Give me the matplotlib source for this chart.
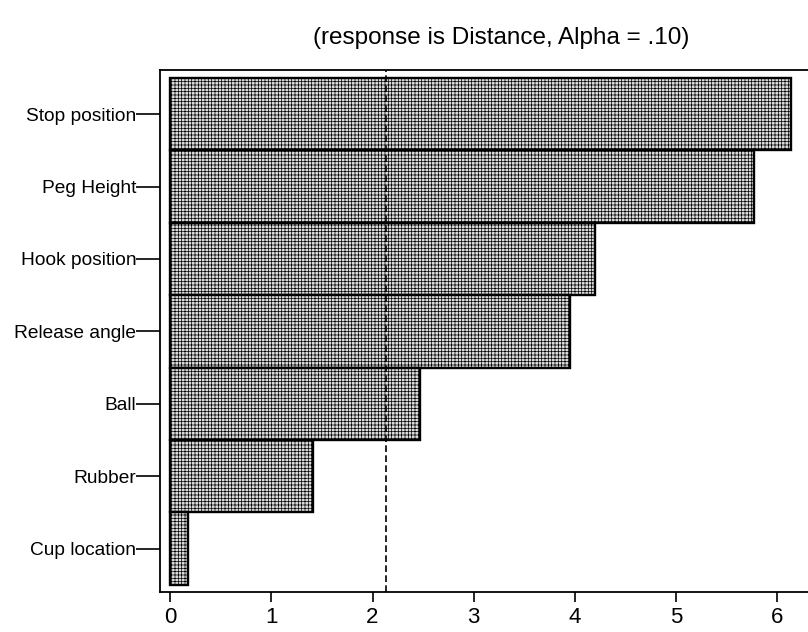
import matplotlib.pyplot as plt

plt.rcParams['font.family'] = ['Liberation Sans', 'DejaVu Sans']
plt.rcParams['hatch.color'] = '#9a9a9a'
plt.rcParams['hatch.linewidth'] = 0.5

factors = ['Stop position', 'Peg Height', 'Hook position', 'Release angle',
           'Ball', 'Rubber', 'Cup location']
effects = [6.14, 5.77, 4.20, 3.95, 2.47, 1.41, 0.18]
ref_line = 2.13
x_ticks = [0, 1, 2, 3, 4, 5, 6]

W, H = 808, 632
fig = plt.figure(figsize=(W / 100, H / 100), dpi=100)
# axes box runs off the right edge of the picture
ax = fig.add_axes([160 / W, 1 - 592 / H, 680 / W, 522 / H])

pos = list(range(len(factors)))[::-1]
ax.barh(pos, effects, height=1.0, color='#dadada', edgecolor='black',
        linewidth=1.7, hatch='+++++')
ax.axvline(ref_line, color='black', linestyle=(0, (4, 2)), linewidth=1.2)

ax.set_xlim(-0.1, 6.62)
ax.set_ylim(-0.6, 6.61)
ax.set_xticks(x_ticks)
ax.set_yticks(pos)
ax.set_yticklabels(factors)
ax.tick_params(axis='x', labelsize=16, length=7.5, width=1.2, pad=3)
ax.tick_params(axis='y', labelsize=13.8, length=17, width=1.2, pad=0)

for s in ax.spines.values():
    s.set_linewidth(1.3)

fig.text(501 / W, 1 - 38 / H, '(response is Distance, Alpha = .10)',
         ha='center', va='center', fontsize=17.5)

fig.savefig('out.png', dpi=100)
